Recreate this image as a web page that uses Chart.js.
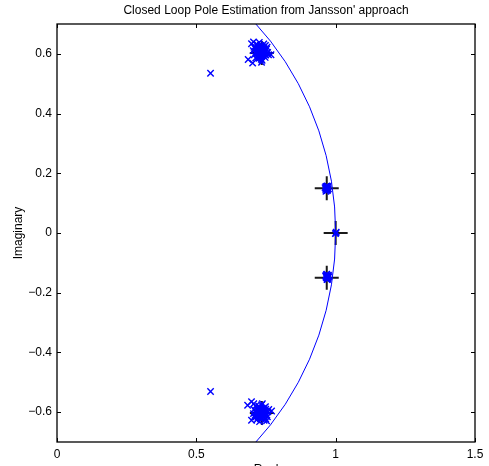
<!DOCTYPE html>
<html>
<head>
<meta charset="utf-8">
<script src="https://cdn.jsdelivr.net/npm/chart.js@4"></script>
<style>
  html, body { margin: 0; padding: 0; background: #fff; }
  #wrap { width: 489px; height: 466px; }
</style>
</head>
<body>
<div id="wrap"><canvas id="poleChart" width="489" height="466"></canvas></div>
<script>
// ===== Data =====
// estimated closed loop poles (blue x)
const estReal = [
  // upper cluster
  0.728, 0.736, 0.718, 0.745, 0.712, 0.730, 0.724, 0.752, 0.708, 0.740,
  0.720, 0.733, 0.748, 0.715, 0.742, 0.727, 0.756, 0.704, 0.736, 0.718,
  0.731, 0.747, 0.713, 0.726, 0.759, 0.738, 0.722, 0.707, 0.754, 0.729,
  0.730, 0.724, 0.736, 0.728, 0.732, 0.719, 0.741, 0.722, 0.739, 0.727,
  0.734, 0.716, 0.746, 0.730, 0.725, 0.743, 0.713, 0.748, 0.721, 0.737,
  0.698, 0.686, 0.702, 0.768, 0.734, 0.705,
  // lower cluster
  0.729, 0.737, 0.719, 0.746, 0.711, 0.731, 0.724, 0.753, 0.707, 0.741,
  0.721, 0.734, 0.749, 0.714, 0.743, 0.726, 0.757, 0.705, 0.737, 0.717,
  0.732, 0.748, 0.712, 0.727, 0.760, 0.739, 0.721, 0.708, 0.755, 0.728,
  0.730, 0.725, 0.737, 0.729, 0.733, 0.718, 0.742, 0.723, 0.740, 0.726,
  0.735, 0.715, 0.747, 0.731, 0.724, 0.744, 0.714, 0.749, 0.720, 0.738,
  0.698, 0.684, 0.698, 0.770, 0.752, 0.706,
  // outliers
  0.551, 0.551,
  // clusters near +-0.15
  0.968, 0.972, 0.964, 0.970, 0.966, 0.974, 0.962, 0.969, 0.971, 0.965, 0.967, 0.973,
  0.968, 0.966, 0.970, 0.967, 0.971, 0.969, 0.965,
  0.970, 0.974, 0.966, 0.972, 0.968, 0.976, 0.964, 0.971, 0.969, 0.967, 0.973, 0.965,
  0.970, 0.968, 0.972, 0.969, 0.967, 0.973, 0.971,
  // pole at 1
  1.001, 1.002, 0.999
];
const estImag = [
  0.607, 0.613, 0.600, 0.602, 0.617, 0.628, 0.588, 0.616, 0.597, 0.593,
  0.623, 0.582, 0.628, 0.609, 0.633, 0.597, 0.605, 0.611, 0.578, 0.632,
  0.616, 0.588, 0.586, 0.638, 0.597, 0.604, 0.612, 0.622, 0.622, 0.591,
  0.606, 0.604, 0.608, 0.614, 0.598, 0.613, 0.611, 0.596, 0.600, 0.620,
  0.592, 0.603, 0.607, 0.628, 0.585, 0.618, 0.622, 0.596, 0.591, 0.624,
  0.634, 0.581, 0.569, 0.597, 0.572, 0.640,
  -0.600, -0.607, -0.593, -0.596, -0.611, -0.622, -0.582, -0.610, -0.591, -0.587,
  -0.617, -0.576, -0.622, -0.603, -0.627, -0.591, -0.599, -0.605, -0.572, -0.626,
  -0.610, -0.582, -0.580, -0.632, -0.591, -0.598, -0.606, -0.616, -0.616, -0.585,
  -0.600, -0.597, -0.603, -0.609, -0.592, -0.607, -0.606, -0.590, -0.595, -0.615,
  -0.587, -0.598, -0.601, -0.622, -0.580, -0.612, -0.616, -0.590, -0.586, -0.620,
  -0.565, -0.577, -0.627, -0.596, -0.629, -0.572,
  0.535, -0.531,
  0.150, 0.154, 0.146, 0.142, 0.155, 0.148, 0.152, 0.158, 0.145, 0.140, 0.151, 0.156,
  0.150, 0.152, 0.148, 0.147, 0.153, 0.144, 0.156,
  -0.145, -0.141, -0.149, -0.153, -0.138, -0.146, -0.144, -0.150, -0.156, -0.140, -0.148, -0.143,
  -0.147, -0.144, -0.150, -0.152, -0.147, -0.143, -0.155,
  0.000, 0.003, -0.002
];

// true closed loop poles (black +)
const poleReal = [0.735, 0.735, 0.968, 0.968, 1.000];
const poleImag = [0.603, -0.603, 0.150, -0.150, 0.000];

// unit circle, 5 degree steps
const circleReal = [0.6428, 0.7071, 0.7660, 0.8192, 0.8660, 0.9063, 0.9397, 0.9659, 0.9848, 0.9962, 1.0000,
  0.9962, 0.9848, 0.9659, 0.9397, 0.9063, 0.8660, 0.8192, 0.7660, 0.7071, 0.6428];
const circleImag = [0.7660, 0.7071, 0.6428, 0.5736, 0.5000, 0.4226, 0.3420, 0.2588, 0.1736, 0.0872, 0.0000,
  -0.0872, -0.1736, -0.2588, -0.3420, -0.4226, -0.5000, -0.5736, -0.6428, -0.7071, -0.7660];

const xTicks = [0, 0.5, 1, 1.5];
const yTicks = [-0.6, -0.4, -0.2, 0, 0.2, 0.4, 0.6];
const titleText = "Closed Loop Pole Estimation from Jansson' approach";

const toPoints = (xs, ys) => xs.map((x, i) => ({ x, y: ys[i] }));
const fmt = v => {
  const s = String(Math.round(v * 10) / 10);
  return s.replace('-', '\u2212');
};

// ===== Box, inward ticks, title and axis titles (MATLAB look) =====
const matlabFrame = {
  id: 'matlabFrame',
  afterDraw(chart) {
    const { ctx, chartArea: a, scales } = chart;
    ctx.save();
    ctx.strokeStyle = '#000';
    ctx.lineWidth = 1;
    ctx.beginPath();
    xTicks.forEach(v => {
      const px = Math.round(scales.x.getPixelForValue(v)) + 0.5;
      ctx.moveTo(px, a.bottom); ctx.lineTo(px, a.bottom - 4);
      ctx.moveTo(px, a.top); ctx.lineTo(px, a.top + 4);
    });
    yTicks.forEach(v => {
      const py = Math.round(scales.y.getPixelForValue(v)) + 0.5;
      ctx.moveTo(a.left, py); ctx.lineTo(a.left + 4, py);
      ctx.moveTo(a.right, py); ctx.lineTo(a.right - 4, py);
    });
    ctx.stroke();
    ctx.lineWidth = 1.3;
    ctx.strokeRect(a.left, a.top, a.right - a.left, a.bottom - a.top);

    const cx = (a.left + a.right) / 2;
    ctx.fillStyle = '#000';
    ctx.font = '12px "Liberation Sans", Arial, sans-serif';
    ctx.textAlign = 'center';
    ctx.textBaseline = 'middle';
    ctx.fillText(titleText, cx, 11);
    ctx.textBaseline = 'alphabetic';
    ctx.fillText('Real', cx, 473);
    ctx.translate(22, (a.top + a.bottom) / 2);
    ctx.rotate(-Math.PI / 2);
    ctx.fillText('Imaginary', 0, 0);
    ctx.restore();
  }
};

document.addEventListener('DOMContentLoaded', () => {
  Chart.defaults.font.family = '"Liberation Sans", Arial, sans-serif';
  Chart.defaults.font.size = 12;
  Chart.defaults.color = '#000';

  new Chart(document.getElementById('poleChart'), {
    type: 'scatter',
    data: {
      datasets: [
        {
          label: 'estimated',
          order: 0,
          data: toPoints(estReal, estImag),
          pointStyle: 'crossRot',
          pointRadius: 4.5,
          borderColor: '#0000ff',
          backgroundColor: '#0000ff',
          pointBorderWidth: 1.4,
        },
        {
          label: 'unit circle',
          order: 1,
          type: 'line',
          data: toPoints(circleReal, circleImag),
          borderColor: '#0000ff',
          borderWidth: 1,
          pointRadius: 0,
          fill: false,
          tension: 0,
        },
        {
          label: 'true',
          order: 2,
          data: toPoints(poleReal, poleImag),
          pointStyle: 'cross',
          pointRadius: 12,
          borderColor: '#1a1a1a',
          backgroundColor: '#1a1a1a',
          pointBorderWidth: 2,
        },
      ],
    },
    options: {
      responsive: false,
      animation: false,
      events: [],
      layout: { padding: { left: 0, right: 14, top: 24, bottom: 0 } },
      plugins: {
        legend: { display: false },
        tooltip: { enabled: false },
        title: { display: false },
      },
      scales: {
        x: {
          type: 'linear',
          min: 0,
          max: 1.5,
          grid: { display: false, drawTicks: false },
          border: { display: false },
          afterBuildTicks: s => { s.ticks = xTicks.map(v => ({ value: v })); },
          afterFit: s => { s.height = 24; },
          ticks: { padding: 5, maxRotation: 0, autoSkip: false, callback: v => fmt(v) },
        },
        y: {
          type: 'linear',
          min: -0.7,
          max: 0.7,
          grid: { display: false, drawTicks: false },
          border: { display: false },
          afterBuildTicks: s => { s.ticks = yTicks.map(v => ({ value: v })); },
          afterFit: s => { s.width = 57; },
          ticks: { padding: 5, autoSkip: false, callback: v => fmt(v) },
        },
      },
    },
    plugins: [matlabFrame],
  });
});
</script>
</body>
</html>
